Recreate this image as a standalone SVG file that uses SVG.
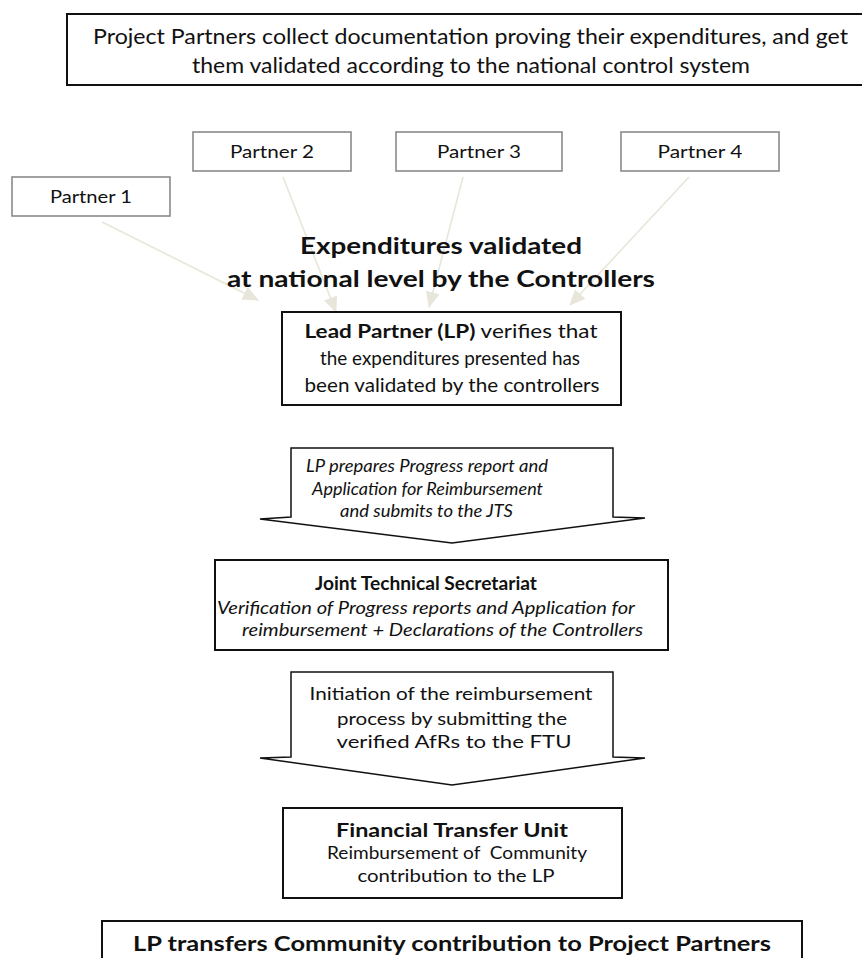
<svg xmlns="http://www.w3.org/2000/svg" width="862" height="958" viewBox="0 0 862 958">
<defs>
<marker id="ah" markerUnits="userSpaceOnUse" markerWidth="16" markerHeight="14" refX="15" refY="7" orient="auto">
<path d="M0,0 L16,7 L0,14 Z" fill="#e8e6da"/>
</marker>
<style>
text{font-family:Lato,"Liberation Sans",sans-serif;fill:#111;}
.box{fill:#fff;stroke:#111;stroke-width:2;}
.pbox{fill:#fff;stroke:#8a8a8a;stroke-width:1.6;}
.conn{stroke:#e8e6da;stroke-width:1.6;fill:none;marker-end:url(#ah);}
.call{fill:#fff;stroke:#111;stroke-width:1.5;stroke-linejoin:miter;}
.c{text-anchor:middle;}
.b{font-weight:bold;}
.i{font-style:italic;}
</style>
</defs>
<rect width="862" height="958" fill="#fff"/>

<g id="top">
<rect class="box" x="67" y="14" width="810" height="71" stroke="#333"/>
<text class="c" x="470.5" y="44" font-size="21" textLength="755" lengthAdjust="spacingAndGlyphs">Project Partners collect documentation proving their expenditures, and get</text>
<text class="c" x="471" y="73" font-size="21" textLength="558" lengthAdjust="spacingAndGlyphs">them validated according to the national control system</text>
</g>

<g id="partner1">
<rect class="pbox" x="12" y="177" width="158" height="39"/>
<text class="c" x="91" y="203" font-size="17" textLength="82" lengthAdjust="spacingAndGlyphs">Partner 1</text>
</g>
<g id="partner2">
<rect class="pbox" x="193" y="132" width="158" height="39"/>
<text class="c" x="272" y="158" font-size="17" textLength="84" lengthAdjust="spacingAndGlyphs">Partner 2</text>
</g>
<g id="partner3">
<rect class="pbox" x="396" y="132" width="166" height="39"/>
<text class="c" x="479" y="158" font-size="17" textLength="84" lengthAdjust="spacingAndGlyphs">Partner 3</text>
</g>
<g id="partner4">
<rect class="pbox" x="621" y="132" width="158" height="39"/>
<text class="c" x="700" y="158" font-size="17" textLength="85" lengthAdjust="spacingAndGlyphs">Partner 4</text>
</g>

<g id="connectors">
<line class="conn" x1="102" y1="222" x2="258" y2="300"/>
<line class="conn" x1="283" y1="177" x2="336" y2="312"/>
<line class="conn" x1="463" y1="177" x2="429" y2="307"/>
<line class="conn" x1="689" y1="177" x2="570" y2="305"/>
</g>

<g id="heading">
<text class="c b" x="441" y="254" font-size="23" textLength="282" lengthAdjust="spacingAndGlyphs">Expenditures validated</text>
<text class="c b" x="441" y="287" font-size="23" textLength="428" lengthAdjust="spacingAndGlyphs">at national level by the Controllers</text>
</g>

<g id="lead-partner">
<rect class="box" x="282" y="312" width="339" height="93"/>
<text class="c" x="451" y="338" font-size="19" textLength="293" lengthAdjust="spacingAndGlyphs"><tspan class="b">Lead Partner (LP)</tspan> verifies that</text>
<text class="c" x="450" y="365" font-size="19" textLength="260" lengthAdjust="spacingAndGlyphs">the expenditures presented has</text>
<text class="c" x="452" y="392" font-size="19" textLength="295" lengthAdjust="spacingAndGlyphs">been validated by the controllers</text>
</g>

<g id="callout-lp">
<path class="call" d="M291,448 H613 V517 L645,518 L452,543 L260,519 L291,517 Z"/>
<text class="c i" x="427" y="472" font-size="17" textLength="242" lengthAdjust="spacingAndGlyphs">LP prepares Progress report and</text>
<text class="c i" x="427.5" y="495" font-size="17" textLength="231" lengthAdjust="spacingAndGlyphs">Application for Reimbursement</text>
<text class="c i" x="426.5" y="517" font-size="17" textLength="173" lengthAdjust="spacingAndGlyphs">and submits to the JTS</text>
</g>

<g id="jts">
<rect class="box" x="215" y="560" width="453" height="90"/>
<text class="c b" x="426" y="590" font-size="19" textLength="222" lengthAdjust="spacingAndGlyphs">Joint Technical Secretariat</text>
<text class="i" x="217" y="614" font-size="18" textLength="418" lengthAdjust="spacingAndGlyphs">Verification of Progress reports and Application for</text>
<text class="i" x="242" y="636" font-size="18" textLength="401" lengthAdjust="spacingAndGlyphs">reimbursement + Declarations of the Controllers</text>
</g>

<g id="callout-jts">
<path class="call" d="M291,672 H613 V757 L645,758 L452,785 L260,758 L291,757 Z"/>
<text class="c" x="451" y="700" font-size="18" textLength="283" lengthAdjust="spacingAndGlyphs">Initiation of the reimbursement</text>
<text class="c" x="452" y="725" font-size="18" textLength="230" lengthAdjust="spacingAndGlyphs">process by submitting the</text>
<text class="c" x="454" y="748" font-size="18" textLength="235" lengthAdjust="spacingAndGlyphs">verified AfRs to the FTU</text>
</g>

<g id="ftu">
<rect class="box" x="283" y="808" width="339" height="90"/>
<text class="c b" x="452" y="837" font-size="18" textLength="232" lengthAdjust="spacingAndGlyphs">Financial Transfer Unit</text>
<text class="c" x="457" y="859" font-size="18" textLength="260" lengthAdjust="spacingAndGlyphs" xml:space="preserve">Reimbursement of  Community</text>
<text class="c" x="456" y="882" font-size="18" textLength="197" lengthAdjust="spacingAndGlyphs">contribution to the LP</text>
</g>

<g id="transfer">
<rect class="box" x="102" y="921" width="700" height="60"/>
<text class="c b" x="452" y="951" font-size="20" textLength="638" lengthAdjust="spacingAndGlyphs">LP transfers Community contribution to Project Partners</text>
</g>
</svg>
